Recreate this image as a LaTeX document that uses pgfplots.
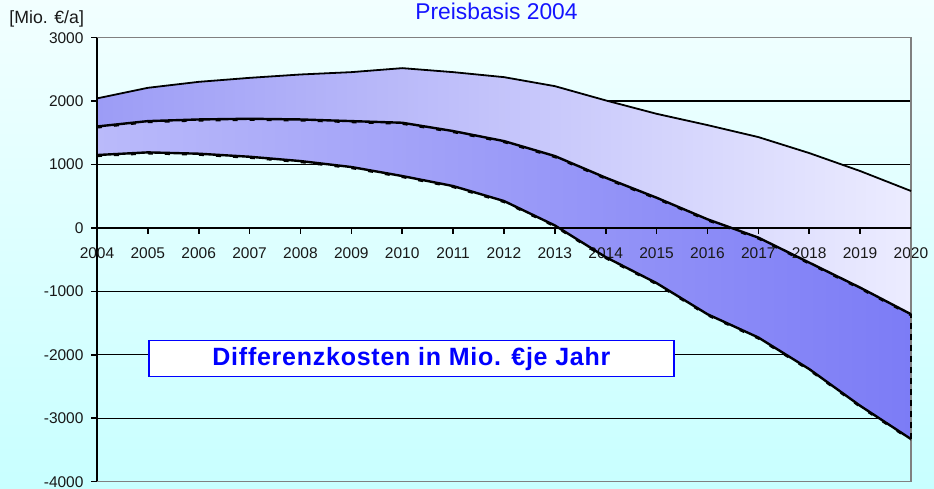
\documentclass[border=0pt]{standalone}
\usepackage{fontspec}
\setmainfont{Liberation Sans}
\usepackage{pgfplots}
\usepackage{pgfplotstable}
\pgfplotsset{compat=1.18}
\usepgfplotslibrary{fillbetween}
\definecolor{bgtop}{HTML}{F2FFFF}
\definecolor{bgbot}{HTML}{C8FFFF}
\definecolor{upL}{HTML}{9C9CF6}
\definecolor{upR}{HTML}{ECECFF}
\definecolor{loL}{HTML}{BABAFA}
\definecolor{loR}{HTML}{7C7CF6}
\definecolor{ttl}{HTML}{1414FF}
\pgfplotsset{
  layers/mylayers/.define layer set={axis background,axis grid,pre main,main,axis ticks,axis lines,axis tick labels,axis descriptions,axis foreground}{},
}
\pgfplotstableread{
year up mid low
2004 2043 1600 1150
2005 2210 1685 1192
2006 2304 1711 1171
2007 2367 1722 1123
2008 2420 1711 1055
2009 2457 1685 961
2010 2520 1659 819
2011 2457 1528 661
2012 2378 1370 425
2013 2236 1134 40
2014 2011 792 -460
2015 1800 477 -870
2016 1622 137 -1360
2017 1433 -152 -1727
2018 1181 -546 -2225
2019 898 -940 -2803
2020 583 -1360 -3328
}\data
\begin{document}
\begin{tikzpicture}
\begin{axis}[
  set layers=mylayers,
  at={(0,0)}, anchor=south west,
  scale only axis, width=814pt, height=444pt,
  xmin=2004, xmax=2020, ymin=-4000, ymax=3000,
  axis x line=middle, axis y line=left,
  hide obscured x ticks=false, hide obscured y ticks=false,
  axis line style={-, black, line width=2pt},
  xtick={2004,...,2020}, ytick={-4000,-3000,...,3000},
  x tick label style={/pgf/number format/1000 sep={}, yshift=-10pt},
  y tick label style={/pgf/number format/1000 sep={}, xshift=-4pt},
  /pgf/number format/assume math mode=true,
  tick label style={font=\fontsize{15.5}{18}\selectfont, text=black!90},
  tick align=outside, major tick length=6pt,
  tick style={black, line width=1.6pt},
  clip=false,
]
\begin{pgfonlayer}{axis background}
\shade[top color=bgtop, bottom color=bgbot] (rel axis cs:-0.119165,-0.016441) rectangle (rel axis cs:1.028256,1.084910);
\draw[black, line width=1.3pt] (axis cs:2004,2000) -- (axis cs:2020,2000)
  (axis cs:2004,1000) -- (axis cs:2020,1000)
  (axis cs:2004,-1000) -- (axis cs:2020,-1000)
  (axis cs:2004,-2000) -- (axis cs:2020,-2000)
  (axis cs:2004,-3000) -- (axis cs:2020,-3000);
\end{pgfonlayer}
\addplot[name path=U, draw=none, forget plot] table[x=year, y=up] {\data};
\addplot[name path=M, draw=none, forget plot] table[x=year, y=mid] {\data};
\addplot[name path=L, draw=none, forget plot] table[x=year, y=low] {\data};
\addplot[left color=upL, right color=upR, draw=none] fill between[of=U and M];
\addplot[left color=loL, right color=loR, draw=none] fill between[of=M and L];
% frame
\draw[gray, line width=1.6pt] (rel axis cs:0,1) -- (rel axis cs:1,1) -- (rel axis cs:1,0) -- (rel axis cs:0,0);
\draw[black, line width=2.2pt] (axis cs:2004,0) -- (axis cs:2020,0);
\addplot[black, line width=1.8pt] table[x=year, y=up] {\data};
\addplot[black, line width=2.4pt] table[x=year, y=mid] {\data};
\addplot[black, line width=2.4pt] table[x=year, y=low] {\data};
\addplot[black, line width=1.6pt, dash pattern=on 5pt off 12pt, yshift=-1.3pt] table[x=year, y=mid] {\data};
\addplot[black, line width=1.6pt, dash pattern=on 5pt off 12pt, yshift=-1.3pt] table[x=year, y=low] {\data};
\addplot[black, line width=2.6pt, dash pattern=on 6pt off 5pt] coordinates {(2004,1150) (2004,1600)};
\addplot[black, line width=2.6pt, dash pattern=on 6pt off 5pt] coordinates {(2020,-3328) (2020,-1360)};
\node[draw=blue, fill=white, line width=1.3pt, minimum width=525pt, minimum height=36pt,
      text=blue, font=\fontsize{25}{28}\selectfont\bfseries\addfontfeatures{LetterSpace=3}, inner sep=0pt]
      at (axis cs:2010.18,-2063) {Differenzkosten in Mio. \texteuro je Jahr};
\end{axis}
\node[anchor=base, text=ttl, font=\fontsize{22.8}{26}\selectfont] at (399.5pt,461.7pt) {Preisbasis 2004};
\node[anchor=base west, inner sep=0pt, text=black!90, font=\fontsize{17.7}{20}\selectfont] at (-87.7pt,458.4pt) {[Mio. \texteuro/a]};
\pgfresetboundingbox
\path (-97pt,-7.3pt) rectangle (837pt,481.7pt);
\end{tikzpicture}
\end{document}
